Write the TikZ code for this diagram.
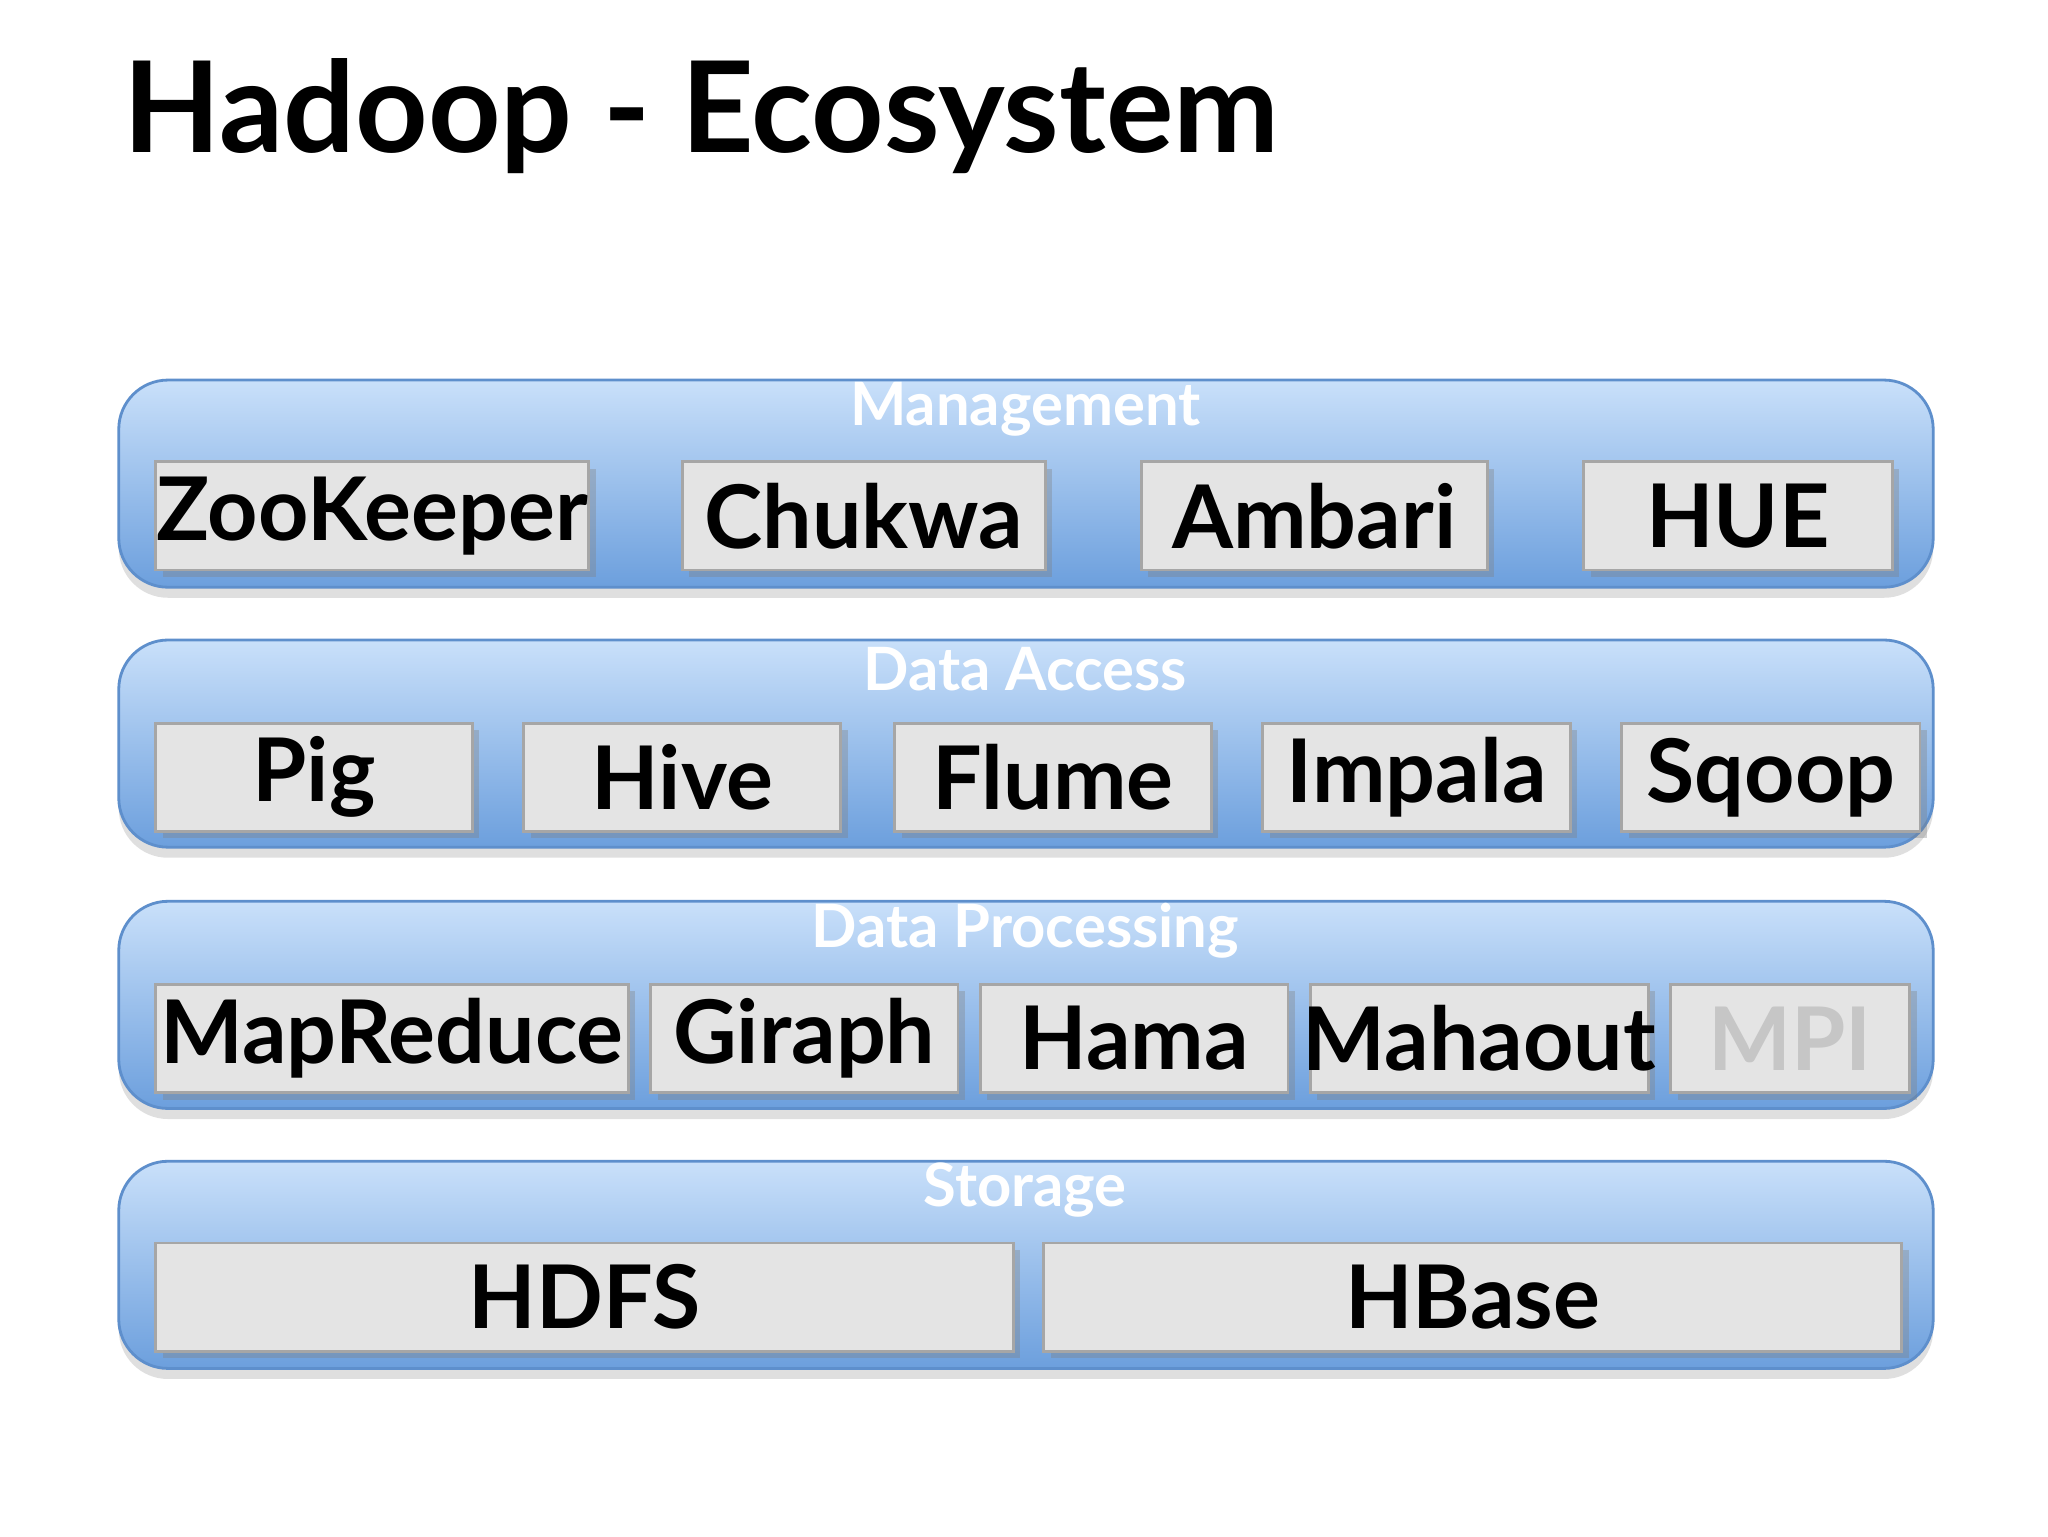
\documentclass[tikz,border=0pt]{standalone}
\usepackage{fontspec}
\setmainfont{Lato}
\usetikzlibrary{shadows}
\definecolor{bandtop}{HTML}{C9E0FA}
\definecolor{bandbot}{HTML}{6C9FDD}
\definecolor{bandline}{HTML}{5E8FCC}
\definecolor{boxfill}{HTML}{E4E4E4}
\tikzset{
  band/.style={rounded corners=14pt, draw=bandline, line width=0.8pt, top color=bandtop, bottom color=bandbot, drop shadow={shadow xshift=0pt, shadow yshift=-3pt, opacity=0.25}},
  bandlabel/.style={text=white, font=\bfseries\fontsize{17}{17}\selectfont, anchor=center},
  item/.style={draw=gray!70, fill=boxfill, line width=0.8pt, drop shadow={shadow xshift=2pt, shadow yshift=-2pt, opacity=0.35}},
  itemtext/.style={font=\bfseries\fontsize{25}{25}\selectfont, text=black, anchor=center}
}
\begin{document}
\begin{tikzpicture}[x=0.0132cm,y=-0.0132cm]
\useasboundingbox (0,0) rectangle (1552,1164);
\fill[white] (0,0) rectangle (1552,1164);
\node[anchor=west, font=\bfseries\fontsize{36}{36}\selectfont] (title) at (84,88) {Hadoop - Ecosystem};
% bands
\foreach \y/\lab/\n in {288/Management/b1,485/Data Access/b2,683/Data Processing/b3,880/Storage/b4}{
  \path[band] (90,\y) rectangle (1465,\y+157);
  \node[bandlabel] (\n) at (777,\y+22) {\lab};
}
% items
\newcommand{\itembox}[6]{%
  \path[item] (#1,#3) rectangle (#2,#4);
  \node[itemtext,#6] (#5) at ({(#1+#2)/2},{(#3+#4)/2}) {#5};}
\itembox{118}{446}{350}{432}{ZooKeeper}{}
\itembox{517}{792}{350}{432}{Chukwa}{}
\itembox{865}{1127}{350}{432}{Ambari}{}
\itembox{1200}{1434}{350}{432}{HUE}{}
\itembox{118}{358}{548}{630}{Pig}{}
\itembox{397}{637}{548}{630}{Hive}{}
\itembox{678}{918}{548}{630}{Flume}{}
\itembox{957}{1190}{548}{630}{Impala}{}
\itembox{1229}{1455}{548}{630}{Sqoop}{}
\itembox{118}{476}{746}{828}{MapReduce}{}
\itembox{493}{726}{746}{828}{Giraph}{}
\itembox{743}{976}{746}{828}{Hama}{}
\itembox{993}{1249}{746}{828}{Mahaout}{}
\itembox{1266}{1447}{746}{828}{MPI}{text=gray!45}
\itembox{118}{768}{942}{1024}{HDFS}{}
\itembox{791}{1441}{942}{1024}{HBase}{}
\end{tikzpicture}
\end{document}
